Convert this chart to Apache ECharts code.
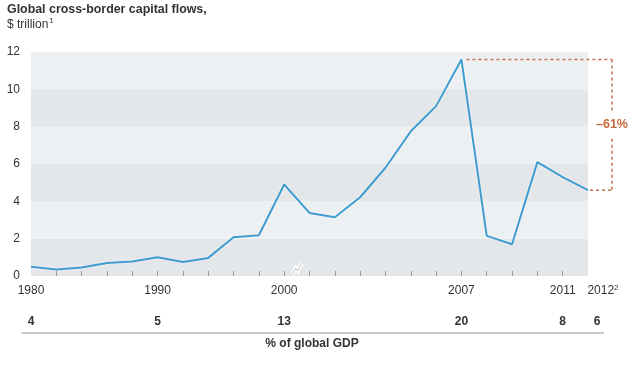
<!DOCTYPE html>
<html>
<head>
<meta charset="utf-8">
<script src="https://cdn.jsdelivr.net/npm/echarts@6/dist/echarts.min.js"></script>
<style>
html,body{margin:0;padding:0;background:#fff;}
#chart{width:643px;height:378px;}
</style>
</head>
<body>
<div id="chart"></div>
<script>
// Data
const years = ['1980','1982','1984','1986','1988','1990','1992','1994','1996','1998','2000',
               '2001','2002','2003','2004','2005','2006','2007','2008','2009','2010','2011','2012'];
const flows = [0.5,0.35,0.45,0.7,0.78,1.0,0.75,0.97,2.08,2.18,4.9,
               3.38,3.15,4.22,5.8,7.75,9.1,11.6,2.15,1.7,6.1,5.3,4.6];
const labelYears = ['1980','1990','2000','2007','2011'];
const lastYear = '2012';
const gdpShare = {'1980':'4','1990':'5','2000':'13','2007':'20','2011':'8','2012':'6'};
const yTicks = [0,2,4,6,8,10,12];
const changeLabel = '–61%';

const FONT = 'Liberation Sans, Arial, Helvetica, sans-serif';
const chart = echarts.init(document.getElementById('chart'));

const hiddenAxisBase = {
  type: 'category', data: years, boundaryGap: false, position: 'bottom',
  axisLine: {show: false}, axisTick: {show: false}, splitLine: {show: false}
};

const option = {
  animation: false,
  backgroundColor: '#fff',
  textStyle: {fontFamily: FONT},
  title: {
    left: 7, top: 2, padding: 0,
    text: '{b|Global cross-border capital flows,}\n{n|$ trillion}{s|1}',
    textStyle: {
      rich: {
        b: {fontFamily: FONT, fontWeight: 'bold', fontSize: 12.4, color: '#333', lineHeight: 15},
        n: {fontFamily: FONT, fontWeight: 'normal', fontSize: 12, color: '#333', lineHeight: 16},
        s: {fontFamily: FONT, fontWeight: 'normal', fontSize: 8, color: '#333', lineHeight: 16, verticalAlign: 'top', padding: [0,0,0,1]}
      }
    }
  },
  grid: {left: 31, right: 55, top: 52, bottom: 102},
  xAxis: [{
    type: 'category', data: years, boundaryGap: false,
    axisLine: {show: false},
    axisTick: {show: true, inside: true, length: 5, lineStyle: {color: '#999'},
      interval: (i) => i > 0 && i < years.length - 1},
    axisLabel: {
      interval: (i, v) => labelYears.includes(v),
      margin: 8, color: '#333', fontSize: 12, fontFamily: FONT, lineHeight: 14
    },
    splitLine: {show: false}
  }, Object.assign({}, hiddenAxisBase, {
    axisLabel: {
      interval: (i, v) => v === lastYear,
      showMaxLabel: true,
      margin: 8, color: '#333', fontSize: 12, fontFamily: FONT,
      formatter: (v) => '{p|' + v + '}{s|2}',
      rich: {
        p: {fontSize: 12, color: '#333', fontFamily: FONT, lineHeight: 14, padding: [0,0,0,30]},
        s: {fontSize: 8, color: '#333', fontFamily: FONT, lineHeight: 14, verticalAlign: 'top'}
      }
    }
  }), Object.assign({}, hiddenAxisBase, {
    offset: 32,
    axisLabel: {
      interval: (i, v) => labelYears.includes(v) || v === lastYear,
      showMaxLabel: true, showMinLabel: true, hideOverlap: false,
      margin: 8, color: '#333', fontSize: 12, fontWeight: 'bold', fontFamily: FONT,
      formatter: (v) => v === lastYear ? '{p|' + gdpShare[v] + '}' : gdpShare[v],
      rich: {p: {fontSize: 12, fontWeight: 'bold', color: '#333', fontFamily: FONT, padding: [0,0,0,18]}}
    }
  })],
  yAxis: {
    type: 'value', min: 0, max: 12, interval: 2,
    axisLine: {show: false}, axisTick: {show: false},
    axisLabel: {margin: 11, color: '#333', fontSize: 12, fontFamily: FONT,
      formatter: (v) => yTicks.includes(v) ? String(v) : ''},
    splitLine: {show: false},
    splitArea: {show: true, areaStyle: {color: ['#e3e7e9', '#edf0f2']}}
  },
  series: [{
    type: 'line', data: flows, symbol: 'none',
    lineStyle: {color: '#3f9bd0', width: 2, shadowColor: 'rgba(255,255,255,0.9)', shadowBlur: 2},
    z: 5
  }]
};
chart.setOption(option);

function drawGraphics() {
  const peakIdx = flows.indexOf(Math.max(...flows));
  const lastIdx = flows.length - 1;
  const pPeak = chart.convertToPixel({gridIndex: 0}, [peakIdx, flows[peakIdx]]);
  const pLast = chart.convertToPixel({gridIndex: 0}, [lastIdx, flows[lastIdx]]);
  const p2000 = chart.convertToPixel({gridIndex: 0}, [years.indexOf('2000'), 0]);
  const p2001 = chart.convertToPixel({gridIndex: 0}, [years.indexOf('2001'), 0]);
  const p1980 = chart.convertToPixel({gridIndex: 0}, [0, 0]);
  const bx = pLast[0] + 24;
  const midY = (pPeak[1] + pLast[1]) / 2;
  const dash = {stroke: '#c4704a', lineWidth: 1.5, lineDash: [3, 3]};
  const brkX = (p2000[0] + p2001[0]) / 2;
  const base = p2000[1];
  const brk = [[brkX - 5, base - 1], [brkX - 1, base - 8], [brkX + 1, base - 5], [brkX + 5, base - 13]];
  chart.setOption({graphic: [
    {type: 'line', shape: {x1: pPeak[0] + 5, y1: pPeak[1], x2: bx, y2: pPeak[1]}, style: dash, silent: true},
    {type: 'line', shape: {x1: bx, y1: pPeak[1], x2: bx, y2: midY - 14}, style: dash, silent: true},
    {type: 'line', shape: {x1: bx, y1: midY + 14, x2: bx, y2: pLast[1]}, style: dash, silent: true},
    {type: 'line', shape: {x1: pLast[0] + 2, y1: pLast[1], x2: bx, y2: pLast[1]}, style: dash, silent: true},
    {type: 'text', x: bx, y: midY, style: {text: changeLabel, fill: '#c4693f', font: 'bold 12.5px ' + FONT,
      textAlign: 'center', textVerticalAlign: 'middle'}, silent: true},
    // axis break marker
    {type: 'polyline', shape: {points: brk}, style: {stroke: '#fff', lineWidth: 4, fill: null}, silent: true, z: 10},
    {type: 'polyline', shape: {points: brk}, style: {stroke: '#b5b5b5', lineWidth: 0.8, fill: null}, silent: true, z: 11},
    // separator line and caption
    {type: 'line', shape: {x1: p1980[0] - 10, y1: 333, x2: pLast[0] + 16, y2: 333},
      style: {stroke: '#999', lineWidth: 1}, silent: true},
    {type: 'text', x: 312, y: 344, style: {text: '% of global GDP', fill: '#333', font: 'bold 12px ' + FONT,
      textAlign: 'center', textVerticalAlign: 'middle'}, silent: true}
  ]});
}
drawGraphics();
</script>
</body>
</html>
